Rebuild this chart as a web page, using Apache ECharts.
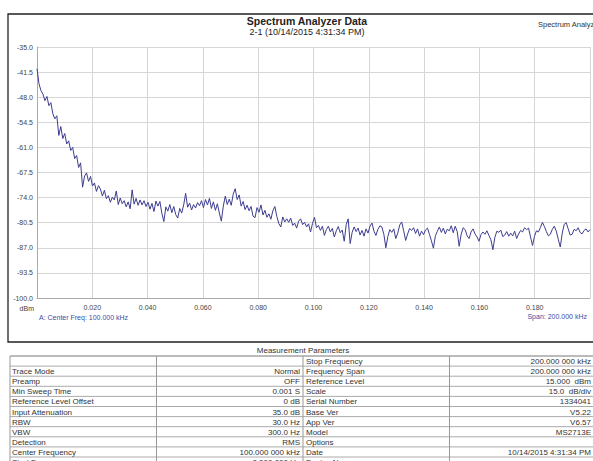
<!DOCTYPE html>
<html><head><meta charset="utf-8">
<script src="https://cdn.jsdelivr.net/npm/echarts@6/dist/echarts.min.js"></script>
<style>html,body{margin:0;padding:0;background:#fff}#c{width:593px;height:461px}</style>
</head><body><div id="c"></div>
<script>
// Trace level in dBm, sampled evenly from 0 to 0.2 (span 200 kHz)
const levelsDbm = [
 -40.6,-44.5,-46.3,-47.2,-48.9,-47.8,-50.2,-49.4,-52.3,-53.6,-52.8,-57.9,-55.6,-58.7,-57.4,-60.1,-59.3,-61.8,-61.0,-63.9,-63.1,-66.2,-65.0,-71.3,-68.4,-67.6,
 -69.8,-68.5,-71.0,-70.2,-72.4,-70.9,-71.8,-73.6,-72.1,-74.3,-73.5,-75.2,-73.9,-74.6,-72.3,-75.8,-74.1,-75.6,-74.8,-76.4,-75.1,-76.9,-72.0,-75.7,-74.2,-76.0,
 -74.6,-75.9,-74.8,-76.3,-75.2,-77.0,-75.5,-77.6,-74.9,-76.2,-75.0,-78.1,-80.2,-76.4,-77.5,-75.8,-77.9,-76.3,-78.4,-79.3,-76.8,-78.0,-75.9,-72.9,-76.5,-75.4,-77.2,-75.8,-76.7,-75.3,
 -76.1,-74.8,-76.6,-74.5,-75.9,-74.2,-76.8,-75.1,-77.3,-75.6,-78.0,-80.1,-76.2,-73.6,-75.8,-74.4,-76.0,-73.1,-71.7,-74.5,-73.3,-76.2,-75.0,-77.1,-76.0,-77.4,-76.3,-78.8,-79.2,-76.6,-77.8,-75.9,-78.5,-77.3,-79.1,-78.2,-79.6,-77.4,-76.3,-78.9,-80.7,-81.6,-79.0,-80.3,-79.5,
 -80.4,-79.3,-81.2,-80.6,-81.9,-80.1,-79.5,-81.0,-80.4,-81.6,-80.8,-82.9,-80.7,-79.1,-81.8,-81.2,-82.5,-81.4,-83.8,-82.3,-81.4,-82.9,-82.0,-84.2,-82.6,-81.5,-83.1,-82.4,-85.3,-81.0,-79.5,-85.9,-83.0,-81.6,-82.8,-81.9,-83.7,-82.5,-84.0,-82.1,-83.2,-81.4,-80.6,-82.7,-83.8,-82.2,-81.3,-81.6,-83.5,-87.0,-84.1,-82.3,-83.0,-82.1,-84.6,-83.2,-81.1,-80.3,-82.6,-85.1,-83.4,-82.0,-82.5,-81.8,-83.3,-82.1,-84.0,-82.7,-83.6,-82.4,-81.9,-83.5,-85.2,-87.1,-83.9,
 -82.7,-81.6,-83.0,-81.9,-83.4,-82.2,-82.6,-81.3,-83.1,-81.4,-82.8,-86.6,-83.5,-81.8,-82.3,-83.9,-84.6,-82.9,-82.1,-83.4,-84.2,-85.3,-83.6,-82.9,-83.5,-82.6,-83.8,-84.9,-87.5,-84.3,-82.7,-83.0,-82.4,-84.1,-83.7,-82.8,-84.0,-83.2,-83.9,-82.7,-84.6,-83.4,-82.5,-82.9,-81.8,-82.3,-81.9,-84.2,-86.4,-84.0,-82.6,-82.9,-81.7,-80.4,-81.5,-82.8,-83.9,-83.5,-82.2,-81.4,-82.7,-84.8,-86.8,-83.2,-80.9,-80.5,-82.1,-83.7,-83.5,-82.2,-82.6,-81.8,-83.0,-83.4,-82.5,-82.1,-82.9,-82.3
];
const spanMax = 0.2;
const xStep = 0.02;
const xTickLabels = ['', '0.020', '0.040', '0.060', '0.080', '0.100', '0.120', '0.140', '0.160', '0.180', ''];
const yBottom = -100.0;
const yTopVal = -35.0;
const yStep = 6.5;
const yTickLabels = ['-100.0', '-93.5', '-87.0', '-80.5', '-74.0', '-67.5', '-61.0', '-54.5', '-48.0', '-41.5', '-35.0'];

const titleText = 'Spectrum Analyzer Data';
const subtitleText = '2-1 (10/14/2015 4:31:34 PM)';
const cornerText = 'Spectrum Analyzer';
const unitText = 'dBm';
const centerText = 'A: Center Freq: 100.000 kHz';
const spanText = 'Span: 200.000 kHz';

const tableTitle = 'Measurement Parameters';
const tableLeftLabels = ['', 'Trace Mode', 'Preamp', 'Min Sweep Time', 'Reference Level Offset', 'Input Attenuation', 'RBW', 'VBW', 'Detection', 'Center Frequency', 'Start Frequency'];
const tableLeftValues = ['', 'Normal', 'OFF', '0.001 S', '0 dB', '35.0 dB', '30.0 Hz', '300.0 Hz', 'RMS', '100.000 000 kHz', '0.000 000 Hz'];
const tableRightLabels = ['Stop Frequency', 'Frequency Span', 'Reference Level', 'Scale', 'Serial Number', 'Base Ver', 'App Ver', 'Model', 'Options', 'Date', 'Device Name'];
const tableRightValues = ['200.000 000 kHz', '200.000 000 kHz', '15.000  dBm', '15.0  dB/div', '1334041', 'V5.22', 'V6.57', 'MS2713E', '', '10/14/2015 4:31:34 PM', ''];

const FONT = '"Liberation Sans", Arial, sans-serif';
const traceData = levelsDbm.map((v, i) => [i * spanMax / (levelsDbm.length - 1), v - yBottom]);

// table graphics
const tX = [10, 156.5, 303, 449.5, 596];
const tTop = 356, rowH = 10.1;
const graphics = [];
graphics.push({type: 'rect', shape: {x: 8, y: 14, width: 620, height: 328}, style: {fill: 'none', stroke: '#222', lineWidth: 1.3}, silent: true});
graphics.push({type: 'text', x: 538, y: 24, style: {text: cornerText, font: '7.5px ' + FONT, fill: '#333', verticalAlign: 'middle'}});
graphics.push({type: 'text', x: 34, y: 308, style: {text: unitText, font: '7px ' + FONT, fill: '#444', align: 'right', verticalAlign: 'middle'}});
graphics.push({type: 'text', x: 39, y: 317, style: {text: centerText, font: '7px ' + FONT, fill: '#3a4ea8', verticalAlign: 'middle'}});
graphics.push({type: 'text', x: 587, y: 316, style: {text: spanText, font: '7px ' + FONT, fill: '#3a4ea8', align: 'right', verticalAlign: 'middle'}});
graphics.push({type: 'text', x: 303, y: 350, style: {text: tableTitle, font: '8px ' + FONT, fill: '#333', align: 'center', verticalAlign: 'middle'}});
const nRows = tableLeftLabels.length + 1;
for (let k = 0; k <= nRows; k++) {
  graphics.push({type: 'line', shape: {x1: tX[0], y1: tTop + k * rowH, x2: tX[4], y2: tTop + k * rowH}, style: {stroke: k === 0 ? '#777' : '#aaa', lineWidth: 1}, silent: true});
}
tX.forEach((x) => {
  graphics.push({type: 'line', shape: {x1: x, y1: tTop, x2: x, y2: 461}, style: {stroke: '#999', lineWidth: 1}, silent: true});
});
for (let k = 0; k < tableLeftLabels.length; k++) {
  const cy = tTop + k * rowH + rowH / 2 + 0.5;
  const st = (t, align) => ({text: t, font: '8px ' + FONT, fill: '#333', align: align, verticalAlign: 'middle'});
  graphics.push({type: 'text', x: tX[0] + 2, y: cy, style: st(tableLeftLabels[k], 'left')});
  graphics.push({type: 'text', x: tX[2] - 3, y: cy, style: st(tableLeftValues[k], 'right')});
  graphics.push({type: 'text', x: tX[2] + 3, y: cy, style: st(tableRightLabels[k], 'left')});
  graphics.push({type: 'text', x: 591, y: cy, style: st(tableRightValues[k], 'right')});
}

const chart = echarts.init(document.getElementById('c'), null, {renderer: 'svg', width: 593, height: 461});
chart.setOption({
  backgroundColor: '#fff',
  animation: false,
  title: {
    text: titleText, subtext: subtitleText, left: 302, top: 10, textAlign: 'center', itemGap: 1,
    textStyle: {fontFamily: FONT, fontSize: 10.5, fontWeight: 'bold', color: '#222'},
    subtextStyle: {fontFamily: FONT, fontSize: 9, color: '#222'}
  },
  grid: {left: 37, top: 47, width: 556, height: 251, containLabel: false},
  xAxis: {
    type: 'value', min: 0, max: spanMax, interval: xStep,
    axisLine: {show: true, lineStyle: {color: '#aaa'}},
    axisTick: {show: false},
    axisLabel: {fontFamily: FONT, fontSize: 7, color: '#444', margin: 6, showMinLabel: true, showMaxLabel: true,
      formatter: (v) => xTickLabels[Math.round(v / xStep)] || ''},
    splitLine: {show: true, lineStyle: {color: '#d6d6d6', width: 1}}
  },
  yAxis: {
    type: 'value', min: 0, max: yTopVal - yBottom, interval: yStep,
    axisLine: {show: true, lineStyle: {color: '#aaa'}},
    axisTick: {show: false},
    axisLabel: {fontFamily: FONT, fontSize: 7, color: '#444', margin: 4,
      formatter: (v) => yTickLabels[Math.round(v / yStep)] || ''},
    splitLine: {show: true, lineStyle: {color: '#d6d6d6', width: 1}}
  },
  series: [{
    type: 'line', data: traceData, showSymbol: false, symbol: 'none',
    lineStyle: {color: '#3d3d8f', width: 1}, silent: true
  }],
  graphic: graphics
});
</script></body></html>
